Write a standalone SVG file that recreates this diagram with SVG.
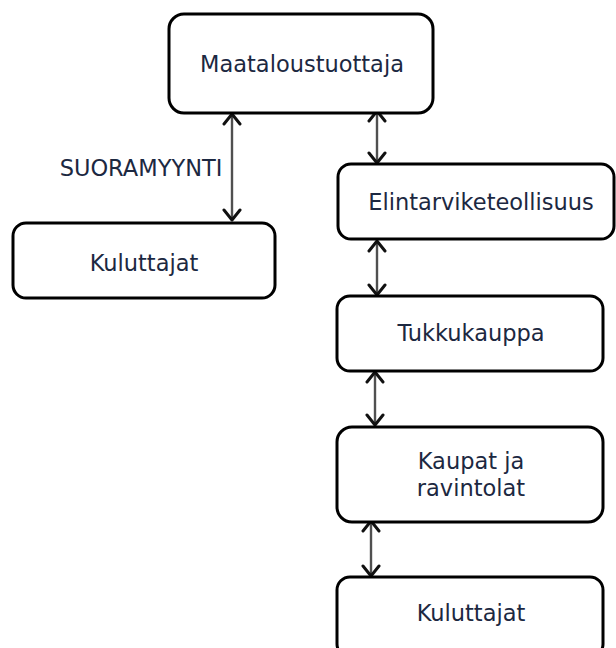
<svg xmlns="http://www.w3.org/2000/svg" width="616" height="648" viewBox="0 0 616 648">
  <style>
    .box { fill: #ffffff; stroke: #000000; stroke-width: 3; }
    .label { font-family: "DejaVu Sans", Verdana, sans-serif; font-size: 22.5px; fill: #1c2841; text-anchor: middle; }
    .link { stroke: #505050; stroke-width: 2.4; fill: none; marker-start: url(#head); marker-end: url(#head); }
  </style>
  <defs>
    <marker id="head" markerUnits="userSpaceOnUse" markerWidth="24" markerHeight="24" viewBox="-12 -12 24 24" refX="0" refY="0" orient="auto-start-reverse">
      <path d="M -10 -8 L 0 0 L -10 8" fill="none" stroke="#111111" stroke-width="3" stroke-linecap="round" stroke-linejoin="round"/>
    </marker>
  </defs>

  <rect width="616" height="648" fill="#ffffff"/>

  <!-- connectors -->
  <g id="connectors">
    <line class="link" x1="232" y1="114" x2="232" y2="220"/>
    <line class="link" x1="377" y1="111" x2="377" y2="163"/>
    <line class="link" x1="377" y1="241" x2="377" y2="295"/>
    <line class="link" x1="375" y1="372" x2="375" y2="425"/>
    <line class="link" x1="371" y1="521" x2="371" y2="576"/>
  </g>

  <g id="node-maataloustuottaja">
    <rect class="box" x="169" y="14" width="264" height="99" rx="15"/>
    <text class="label" x="302" y="72">Maataloustuottaja</text>
  </g>

  <g id="label-suoramyynti">
    <text class="label" x="141" y="176">SUORAMYYNTI</text>
  </g>

  <g id="node-kuluttajat-suora">
    <rect class="box" x="13" y="223" width="262" height="75" rx="13"/>
    <text class="label" x="144" y="271">Kuluttajat</text>
  </g>

  <g id="node-elintarviketeollisuus">
    <rect class="box" x="338" y="164" width="276" height="75" rx="13"/>
    <text class="label" x="481" y="210">Elintarviketeollisuus</text>
  </g>

  <g id="node-tukkukauppa">
    <rect class="box" x="337" y="296" width="266" height="75" rx="13"/>
    <text class="label" x="471" y="341">Tukkukauppa</text>
  </g>

  <g id="node-kaupat">
    <rect class="box" x="337" y="427" width="266" height="95" rx="15"/>
    <text class="label" x="471" y="469">Kaupat ja</text>
    <text class="label" x="471" y="496">ravintolat</text>
  </g>

  <g id="node-kuluttajat">
    <rect class="box" x="337" y="577" width="266" height="80" rx="13"/>
    <text class="label" x="471" y="621">Kuluttajat</text>
  </g>
</svg>
